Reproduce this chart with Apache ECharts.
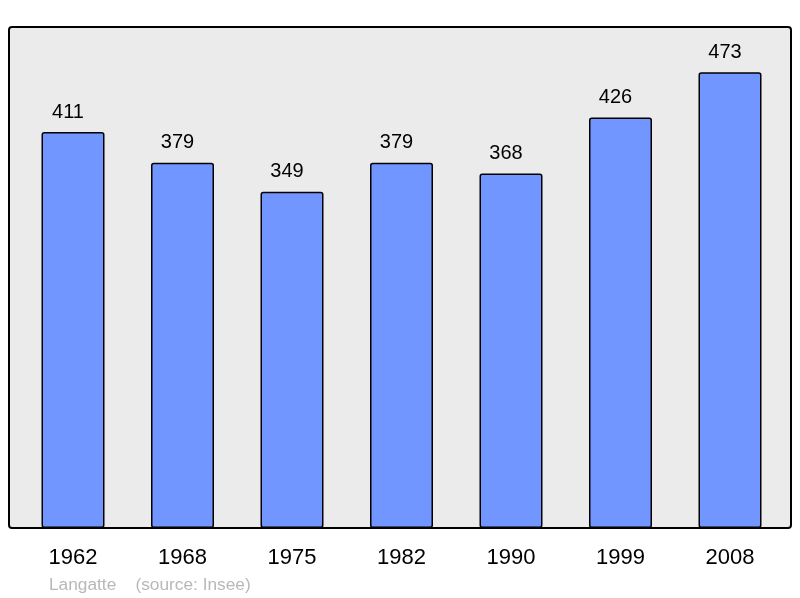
<!DOCTYPE html>
<html>
<head>
<meta charset="utf-8">
<script src="https://cdn.jsdelivr.net/npm/echarts@6/dist/echarts.min.js"></script>
<style>
	html, body { margin: 0; padding: 0; background: #ffffff; }
	#chart { width: 800px; height: 598px; }
</style>
</head>
<body>
<div id="chart"></div>
<script>
// population par recensement
var years = ['1962', '1968', '1975', '1982', '1990', '1999', '2008'];
var population = [411, 379, 349, 379, 368, 426, 473];
var yMax = 520;

var chart = echarts.init(document.getElementById('chart'), null, { renderer: 'canvas' });

var options =
{
	animation: false,
	backgroundColor: '#ffffff',
	textStyle: { fontFamily: 'Liberation Sans' },
	title:
	{
		text: 'Langatte    (source: Insee)',
		left: 49,
		top: 577,
		padding: 0,
		textStyle: { color: '#b8b8b8', fontSize: 17.3, fontWeight: 'normal', fontFamily: 'Liberation Sans' }
	},
	graphic:
	[
		{
			type: 'rect',
			z: 0,
			shape: { x: 9, y: 27, width: 782, height: 501, r: 3 },
			style: { fill: '#ebebeb', stroke: '#000000', lineWidth: 2 }
		}
	],
	grid: { left: 18.25, right: 15.25, top: 27, bottom: 70, containLabel: false },
	xAxis:
	{
		type: 'category',
		data: years,
		axisLine: { show: false },
		axisTick: { show: false },
		axisLabel: { color: '#000000', fontSize: 22, margin: 19, fontFamily: 'Liberation Sans' }
	},
	yAxis:
	{
		type: 'value',
		min: 0,
		max: yMax,
		show: false,
		splitLine: { show: false }
	},
	series:
	[
		{
			type: 'bar',
			data: population,
			barWidth: 63,
			z: 2,
			itemStyle: { color: '#7196ff', borderColor: '#000000', borderWidth: 1.5, borderRadius: 2 },
			label:
			{
				show: true,
				position: 'top',
				distance: 10,
				offset: [-5, 0],
				color: '#000000',
				fontSize: 20,
				fontFamily: 'Liberation Sans'
			}
		}
	]
};

chart.setOption(options);
</script>
</body>
</html>
